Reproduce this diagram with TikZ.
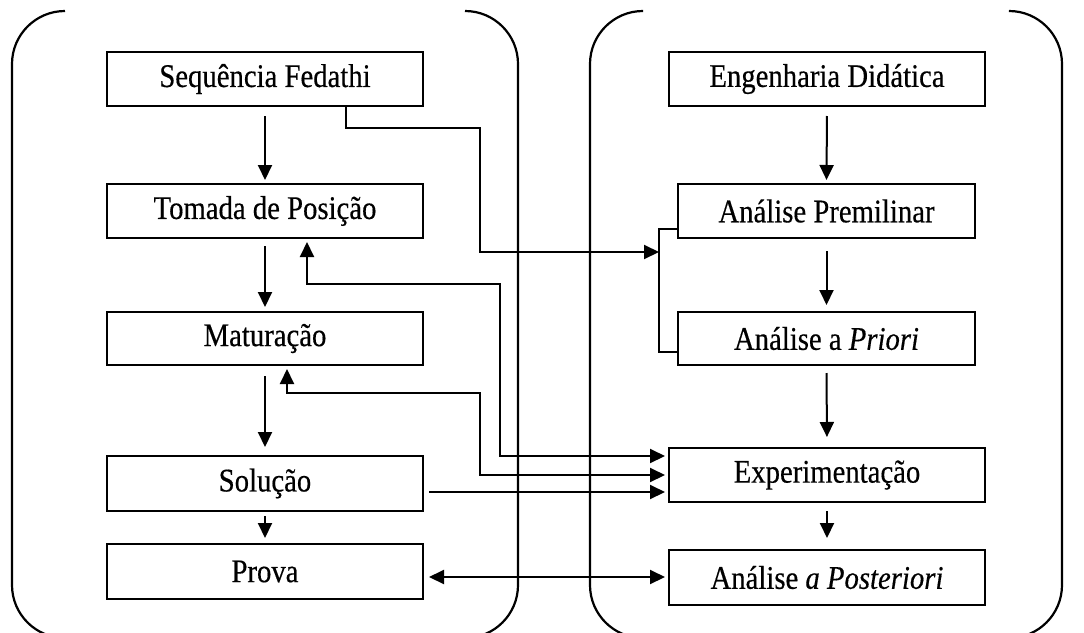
\documentclass[tikz,border=0pt]{standalone}
\usepackage{fontspec}
\setmainfont{Liberation Serif}[FakeStretch=0.87,FakeBold=0.4]
\usetikzlibrary{arrows.meta,calc}
\begin{document}
\begin{tikzpicture}[x=1pt,y=-1pt,
  box/.style={draw,line width=2pt,minimum height=54pt,inner sep=0pt,
    font=\fontsize{33}{36}\selectfont},
  wbox/.style={box,minimum width=316pt},
  nbox/.style={box,minimum width=297pt},
  cont/.style={line width=2.2pt,rounded corners=53pt},
  tip/.tip={Triangle[length=15pt,width=14pt]},
  arr/.style={line width=2pt,-tip},
  darr/.style={line width=2pt,tip-tip},
  ln/.style={line width=2pt}]
\useasboundingbox (0,0) rectangle (1084,632);
% containers
\draw[cont] (65,11) -- (12,11) -- (12,638) -- (518,638) -- (518,11) -- (465,11);
\draw[cont] (642,11) -- (590,11) -- (590,638) -- (1062,638) -- (1062,11) -- (1010,11);
% left column
\node[wbox] (seq) at (265,79) {Sequência Fedathi};
\node[wbox] (tom) at (265,211) {Tomada de Posição};
\node[wbox,minimum height=53pt] (mat) at (265,338.5) {Maturação};
\node[wbox,minimum height=55pt] (sol) at (265,483.5) {Solução};
\node[wbox,minimum height=55pt] (prova) at (265,571.5) {Prova};
% right column
\node[wbox] (eng) at (827,79) {Engenharia Didática};
\node[nbox] (ap) at (826.5,211) {Análise Premilinar};
\node[nbox,minimum height=53pt] (pri) at (826.5,338.5) {Análise a \textit{Priori}};
\node[wbox] (exp) at (827,475) {Experimentação};
\node[wbox,minimum height=55pt] (post) at (827,577.5) {Análise \textit{a Posteriori}};
% vertical arrows
\draw[arr,shorten <=9pt,shorten >=3pt] (seq.south) -- (tom.north);
\draw[arr,shorten <=7pt,shorten >=4pt] (tom.south) -- (mat.north);
\draw[arr,shorten <=10pt,shorten >=8pt] (mat.south) -- (sol.north);
\draw[arr,shorten <=4pt,shorten >=5pt] (sol.south) -- (prova.north);
\draw[arr,shorten <=9pt,shorten >=3pt] (eng.south) -- (ap.north);
\draw[arr,shorten <=12pt,shorten >=6pt] (ap.south) -- (pri.north);
\draw[arr,shorten <=7pt,shorten >=10pt] (pri.south) -- (exp.north);
\draw[arr,shorten <=8pt,shorten >=11pt] (exp.south) -- (post.north);
% bracket on the right
\draw[ln] ([yshift=-18pt]ap.west) -- ++(-18,0) coordinate (brk0) |- ([yshift=-13.5pt]pri.west);
\coordinate (brk) at (brk0 |- 0,252);
% Sequencia -> bracket
\draw[arr] ([xshift=81pt]seq.south) |- (480,128) |- (brk);
% Tomada <-> Experimentacao
\draw[darr] ([xshift=42pt,yshift=-3pt]tom.south) |- (500,284) |- ([xshift=-3pt,yshift=19pt]exp.west);
% Maturacao <-> Experimentacao
\draw[darr] ([xshift=22pt,yshift=-3pt]mat.south) |- (480,393) |- ([xshift=-3pt]exp.west);
% Solucao -> Experimentacao
\coordinate (s1) at ([xshift=5pt,yshift=-8.5pt]sol.east);
\draw[arr,shorten >=3pt] (s1) -- (s1 -| exp.west);
% Prova <-> Posteriori
\coordinate (p1) at ([xshift=5pt,yshift=-5.5pt]prova.east);
\draw[darr,shorten >=3pt] (p1) -- (p1 -| post.west);
\end{tikzpicture}
\end{document}
